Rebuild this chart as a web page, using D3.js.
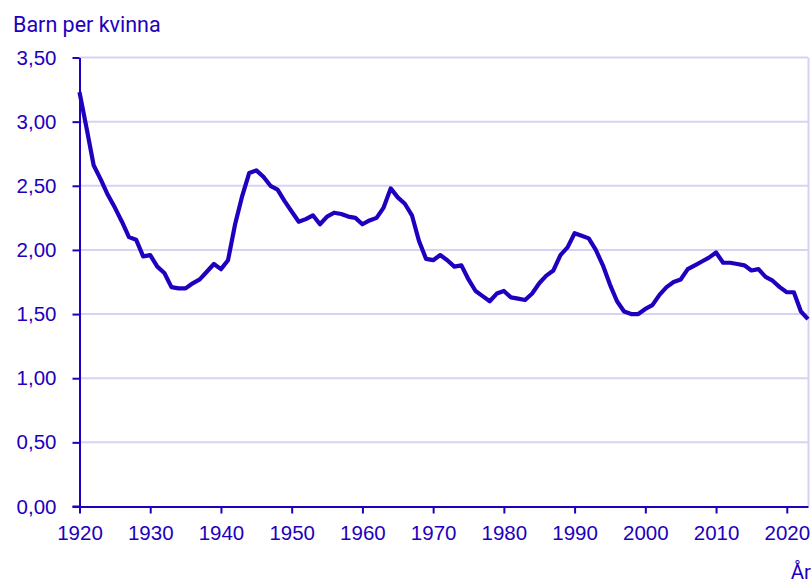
<!DOCTYPE html>
<html>
<head>
<meta charset="utf-8">
<script src="https://cdn.jsdelivr.net/npm/d3@7.9.0/dist/d3.min.js"></script>
<style>
  body { margin: 0; background: #fff; }
  svg { display: block; font-family: Roboto, sans-serif; }
</style>
</head>
<body>
<svg width="812" height="583"></svg>
<script>
const years = d3.range(1920, 2024);

// Barn per kvinna (summerad fruktsamhet), 1920–2023
const fertility = [
  3.23, 2.95, 2.66, 2.55, 2.43, 2.33, 2.22, 2.10, 2.08, 1.95,
  1.96, 1.87, 1.82, 1.71, 1.70, 1.70, 1.74, 1.77, 1.83, 1.89,
  1.85, 1.92, 2.20, 2.42, 2.60, 2.62, 2.57, 2.50, 2.47, 2.38,
  2.30, 2.22, 2.24, 2.27, 2.20, 2.26, 2.29, 2.28, 2.26, 2.25,
  2.20, 2.23, 2.25, 2.33, 2.48, 2.41, 2.36, 2.27, 2.07, 1.93,
  1.92, 1.96, 1.92, 1.87, 1.88, 1.77, 1.68, 1.64, 1.60, 1.66,
  1.68, 1.63, 1.62, 1.61, 1.66, 1.74, 1.80, 1.84, 1.96, 2.02,
  2.13, 2.11, 2.09, 2.00, 1.88, 1.73, 1.60, 1.52, 1.50, 1.50,
  1.54, 1.57, 1.65, 1.71, 1.75, 1.77, 1.85, 1.88, 1.91, 1.94,
  1.98, 1.90, 1.90, 1.89, 1.88, 1.84, 1.85, 1.79, 1.76, 1.71,
  1.67, 1.67, 1.52, 1.46
];

const yTicks = [0, 0.5, 1, 1.5, 2, 2.5, 3, 3.5];
const xTicks = d3.range(1920, 2030, 10);

const blue = '#1e00be';
const grid = '#d4d4f2';

const margin = { left: 79.5, right: 4, top: 57.5, bottom: 76.5 };
const svg = d3.select('svg');
const width = 812, height = 583;

const x = d3.scaleLinear().domain([1920, 2023]).range([margin.left, width - margin.right]);
const y = d3.scaleLinear().domain([0, 3.5]).range([height - margin.bottom, margin.top]);

const fmt = d => d3.format('.2f')(d).replace('.', ',');

// gridlines
svg.append('g')
  .selectAll('line')
  .data(yTicks.slice(1))
  .join('line')
  .attr('x1', margin.left)
  .attr('x2', width - margin.right)
  .attr('y1', d => y(d))
  .attr('y2', d => y(d))
  .attr('stroke', grid)
  .attr('stroke-width', 2);

// right border
svg.append('line')
  .attr('x1', width - margin.right + 0.5)
  .attr('x2', width - margin.right + 0.5)
  .attr('y1', margin.top)
  .attr('y2', y(0))
  .attr('stroke', grid)
  .attr('stroke-width', 2);

// y axis
let yAxis = svg.append('g')
  .attr('transform', `translate(${margin.left},0)`)
  .call(d3.axisLeft(y).tickValues(yTicks).tickFormat(fmt).tickSize(7).tickSizeOuter(0).tickPadding(16));

// x axis
let xAxis = svg.append('g')
  .attr('transform', `translate(0,${y(0)})`)
  .call(d3.axisBottom(x).tickValues(xTicks).tickFormat(d3.format('d')).tickSize(7).tickSizeOuter(0).tickPadding(12));

[yAxis, xAxis].forEach(g => {
  g.selectAll('path, line').attr('stroke', blue).attr('stroke-width', 2);
  g.selectAll('text').attr('fill', blue).attr('font-size', 20.5);
});
// extend x axis line left to meet the tick of the y axis
svg.append('line')
  .attr('x1', margin.left - 7).attr('x2', margin.left)
  .attr('y1', y(0)).attr('y2', y(0))
  .attr('stroke', blue).attr('stroke-width', 2);

// line
const line = d3.line()
  .x((d, i) => x(years[i]))
  .y(d => y(d));

svg.append('path')
  .datum(fertility)
  .attr('d', line)
  .attr('fill', 'none')
  .attr('stroke', blue)
  .attr('stroke-width', 4.2)
  .attr('stroke-linejoin', 'round');

// titles
svg.append('text')
  .attr('x', 13)
  .attr('y', 32)
  .attr('fill', blue)
  .attr('font-size', 21.5)
  .text('Barn per kvinna');

svg.append('text')
  .attr('x', 811)
  .attr('y', 579)
  .attr('text-anchor', 'end')
  .attr('fill', blue)
  .attr('font-size', 20.5)
  .text('År');
</script>
</body>
</html>
